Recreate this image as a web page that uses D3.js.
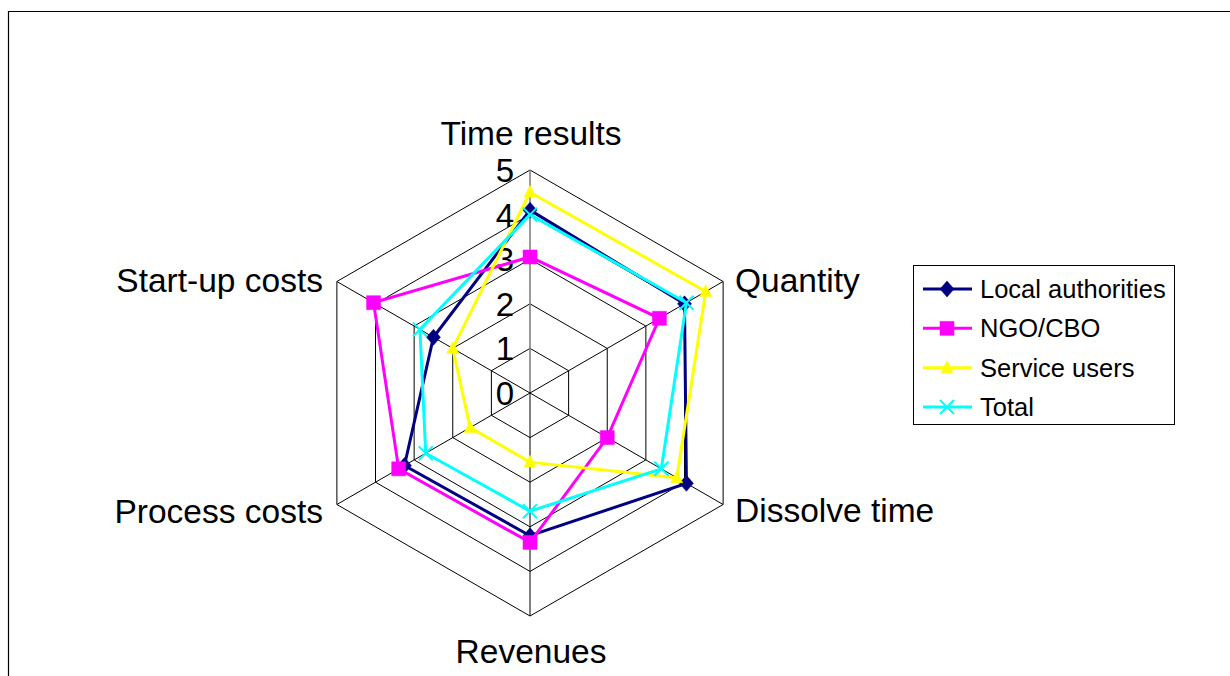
<!DOCTYPE html>
<html>
<head>
<meta charset="utf-8">
<script src="https://cdn.jsdelivr.net/npm/d3@7"></script>
<style>
  html, body { margin: 0; padding: 0; background: #fff; }
  svg { display: block; font-family: Arial, "Liberation Sans", sans-serif; }
</style>
</head>
<body>
<svg id="chart" width="1230" height="676"></svg>
<script>
// Radar chart: ratings by stakeholder group (0–5 scale)
const categories = ["Time results", "Quantity", "Dissolve time", "Revenues", "Process costs", "Start-up costs"];
const tickValues = [0, 1, 2, 3, 4, 5];
const seriesNames = ["Local authorities", "NGO/CBO", "Service users", "Total"];
const localAuthorities = [4.1, 4.0, 4.05, 3.2, 3.25, 2.5];
const ngoCbo = [3.05, 3.35, 2.0, 3.35, 3.4, 4.05];
const serviceUsers = [4.5, 4.55, 3.8, 1.55, 1.55, 2.0];
const total = [4.0, 4.05, 3.4, 2.65, 2.7, 2.85];

const seriesValues = [localAuthorities, ngoCbo, serviceUsers, total];
const seriesColors = ["#000080", "#FF00FF", "#FFFF00", "#00FFFF"];
const seriesMarkers = ["diamond", "square", "triangle", "cross"];

const svg = d3.select("#chart");
const cx = 530, cy = 393;
const r = d3.scaleLinear().domain([0, 5]).range([0, 223]);
const angle = d3.scaleLinear().domain([0, categories.length]).range([0, 2 * Math.PI]);

function pt(i, v) {
  const a = angle(i);
  return [cx + r(v) * Math.sin(a), cy - r(v) * Math.cos(a)];
}

// outer plot frame
svg.append("path")
  .attr("d", "M8.5,676 L8.5,11.5 L1230,11.5")
  .attr("fill", "none").attr("stroke", "#000").attr("stroke-width", 1.2);

// hexagonal grid rings
const grid = svg.append("g");
tickValues.filter(t => t > 0).forEach(t => {
  grid.append("polygon")
    .attr("points", categories.map((c, i) => pt(i, t).join(",")).join(" "))
    .attr("fill", "none").attr("stroke", "#000").attr("stroke-width", 1);
});
// spokes
categories.forEach((c, i) => {
  const [x, y] = pt(i, 5);
  grid.append("line")
    .attr("x1", cx).attr("y1", cy).attr("x2", x).attr("y2", y)
    .attr("stroke", i === 0 ? "#808080" : "#000")
    .attr("stroke-width", i === 0 ? 1.6 : 1);
});

// category labels
const labelPos = [
  { dx: 1, dy: -248, anchor: "middle" },
  { dx: 205, dy: -101, anchor: "start" },
  { dx: 205, dy: 129, anchor: "start" },
  { dx: 1, dy: 270, anchor: "middle" },
  { dx: -207, dy: 130, anchor: "end" },
  { dx: -207, dy: -101, anchor: "end" }
];
categories.forEach((c, i) => {
  svg.append("text")
    .attr("x", cx + labelPos[i].dx).attr("y", cy + labelPos[i].dy)
    .attr("text-anchor", labelPos[i].anchor)
    .attr("font-size", 33.5).attr("fill", "#000")
    .text(c);
});

// value axis tick labels
tickValues.forEach(t => {
  svg.append("text")
    .attr("x", cx - 16).attr("y", cy - r(t) + 12)
    .attr("text-anchor", "end")
    .attr("font-size", 33).attr("fill", "#000")
    .text(t);
});

// marker path generators
function markerPath(type) {
  switch (type) {
    case "diamond": return "M0,-8 L7,0 L0,8 L-7,0 Z";
    case "square": return "M-7,-7 L7,-7 L7,7 L-7,7 Z";
    case "triangle": return "M0,-7 L6,5 L-6,5 Z";
    case "cross": return "M-7,-7 L7,7 M-7,7 L7,-7";
  }
}
function drawMarker(g, type, color, x, y) {
  const p = g.append("path").attr("d", markerPath(type))
    .attr("transform", `translate(${x},${y})`);
  if (type === "cross") p.attr("fill", "none").attr("stroke", color).attr("stroke-width", 2);
  else p.attr("fill", color).attr("stroke", color).attr("stroke-width", 0.5);
}

// series
const line = d3.line().curve(d3.curveLinearClosed);
seriesValues.forEach((vals, s) => {
  const g = svg.append("g");
  const pts = vals.map((v, i) => pt(i, v));
  g.append("path").attr("d", line(pts))
    .attr("fill", "none").attr("stroke", seriesColors[s])
    .attr("stroke-width", 3).attr("stroke-linejoin", "miter");
  pts.forEach(([x, y]) => drawMarker(g, seriesMarkers[s], seriesColors[s], x, y));
});

// legend
const legend = svg.append("g");
legend.append("rect")
  .attr("x", 913.5).attr("y", 265.5).attr("width", 261).attr("height", 159)
  .attr("fill", "#fff").attr("stroke", "#000").attr("stroke-width", 1);
const legendY = d3.scalePoint().domain(seriesNames).range([289, 407]);
seriesNames.forEach((name, s) => {
  const y = legendY(name);
  legend.append("line").attr("x1", 923).attr("x2", 972).attr("y1", y).attr("y2", y)
    .attr("stroke", seriesColors[s]).attr("stroke-width", 3);
  drawMarker(legend, seriesMarkers[s], seriesColors[s], 947, y);
  legend.append("text").attr("x", 980).attr("y", y + 9)
    .attr("font-size", 25.5).attr("fill", "#000").text(name);
});
</script>
</body>
</html>
